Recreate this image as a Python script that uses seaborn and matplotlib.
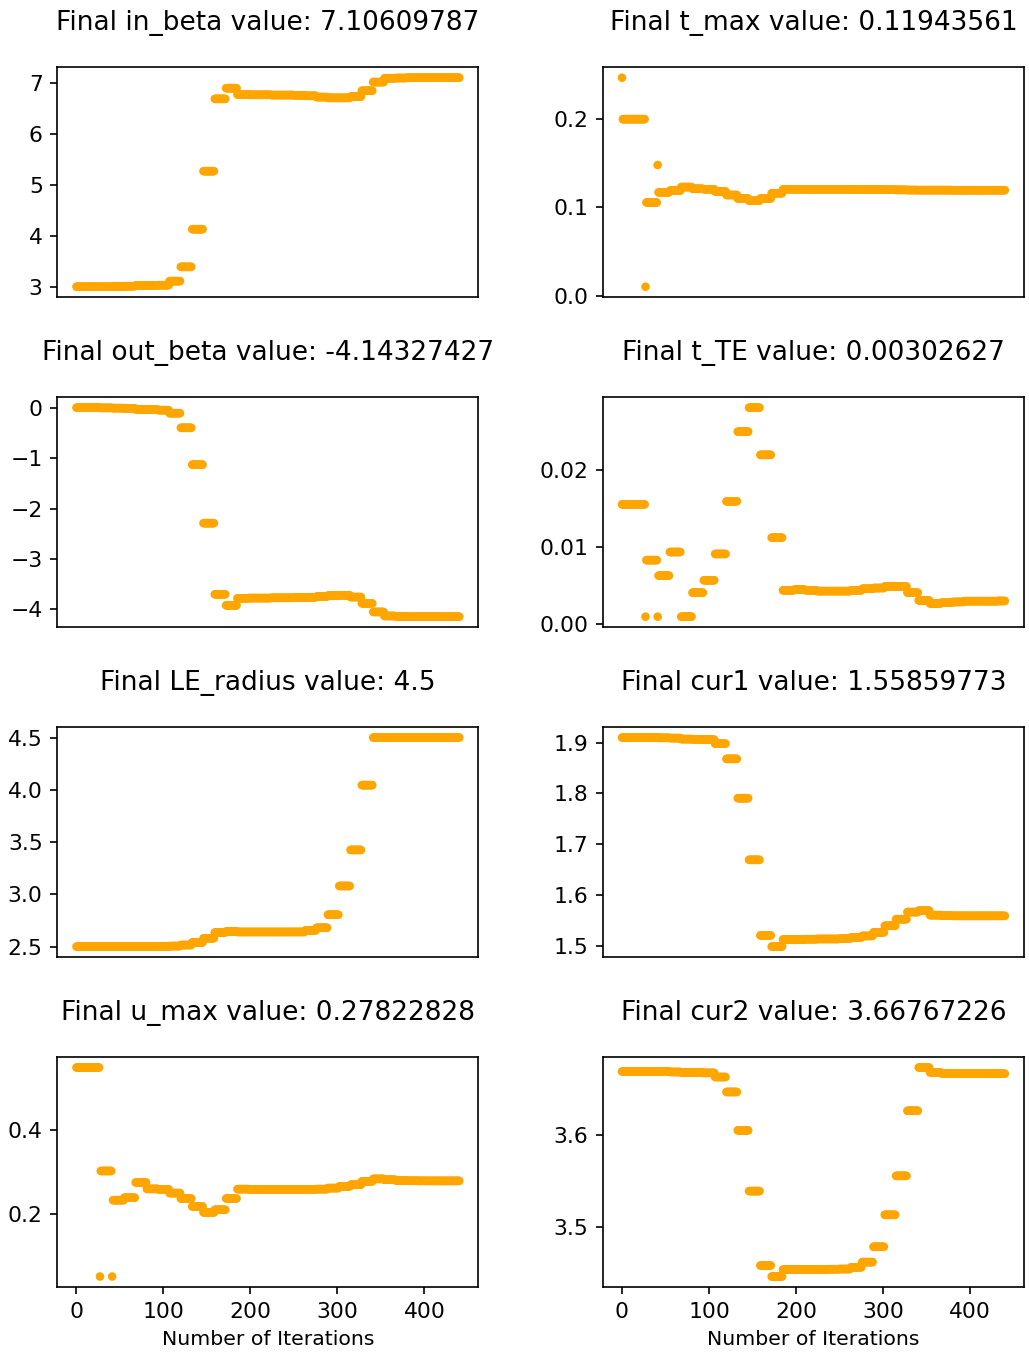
import numpy as np
import pandas as pd
import matplotlib
matplotlib.use("Agg")
import matplotlib.pyplot as plt
import seaborn as sns

# Each series is a staircase: one value per block of iterations
run_lengths = [1, 26, 1, 13, 1, 13, 13, 13, 13, 13, 13, 13, 13, 13, 13, 13, 13, 13,
               13, 13, 13, 13, 13, 13, 13, 13, 13, 13, 13, 13, 13, 13, 13, 13, 13, 9]

in_beta = [3.00, 3.00, 3.00, 3.00, 3.00, 3.005, 3.01, 3.025, 3.025, 3.03, 3.11, 3.39,
           4.13, 5.27, 6.69, 6.90, 6.775, 6.77, 6.77, 6.765, 6.765, 6.76, 6.75, 6.725,
           6.71, 6.71, 6.735, 6.85, 7.02, 7.095, 7.10, 7.105, 7.106, 7.106, 7.106, 7.10609787]

t_max = [0.247, 0.200, 0.010, 0.1055, 0.148, 0.117, 0.119, 0.123, 0.121, 0.1205, 0.118, 0.114,
         0.110, 0.1075, 0.110, 0.116, 0.1205, 0.1205, 0.1205, 0.1205, 0.1205, 0.1205, 0.1204, 0.1203,
         0.1202, 0.1200, 0.1198, 0.1196, 0.1195, 0.1195, 0.1195, 0.1194, 0.1194, 0.1194, 0.1194, 0.11943561]

out_beta = [0.0, 0.0, 0.0, -0.005, -0.005, -0.01, -0.015, -0.035, -0.04, -0.05, -0.11, -0.40,
            -1.13, -2.29, -3.70, -3.92, -3.78, -3.775, -3.775, -3.77, -3.77, -3.765, -3.76, -3.745,
            -3.725, -3.72, -3.755, -3.88, -4.05, -4.13, -4.14, -4.143, -4.143, -4.143, -4.143, -4.14327427]

t_TE = [0.0155, 0.0155, 0.0010, 0.0083, 0.0010, 0.0063, 0.00935, 0.0010, 0.0041, 0.0057, 0.0091, 0.0159,
        0.0249, 0.0280, 0.0219, 0.0112, 0.0044, 0.0045, 0.0044, 0.0043, 0.0043, 0.0043, 0.0044, 0.0046,
        0.0047, 0.0049, 0.0049, 0.0041, 0.0031, 0.0027, 0.0028, 0.0029, 0.0030, 0.0030, 0.0030, 0.00302627]

LE_radius = [2.50, 2.50, 2.50, 2.50, 2.50, 2.50, 2.50, 2.50, 2.50, 2.50, 2.505, 2.515,
             2.54, 2.58, 2.635, 2.645, 2.64, 2.64, 2.64, 2.64, 2.64, 2.64, 2.655, 2.68,
             2.805, 3.08, 3.425, 4.045, 4.5, 4.5, 4.5, 4.5, 4.5, 4.5, 4.5, 4.5]

cur1 = [1.910, 1.910, 1.910, 1.910, 1.910, 1.9095, 1.909, 1.907, 1.9065, 1.906, 1.898, 1.868,
        1.7905, 1.669, 1.520, 1.498, 1.512, 1.512, 1.5125, 1.513, 1.513, 1.5135, 1.516, 1.519,
        1.526, 1.539, 1.552, 1.566, 1.569, 1.560, 1.559, 1.5586, 1.5586, 1.5586, 1.5586, 1.55859773]

u_max = [0.550, 0.550, 0.049, 0.302, 0.049, 0.232, 0.238, 0.2745, 0.259, 0.258, 0.249, 0.236,
         0.217, 0.2025, 0.209, 0.236, 0.2585, 0.258, 0.258, 0.258, 0.258, 0.258, 0.258, 0.2585,
         0.261, 0.265, 0.269, 0.277, 0.283, 0.281, 0.279, 0.2785, 0.2783, 0.2782, 0.2782, 0.27822828]

cur2 = [3.670, 3.670, 3.670, 3.670, 3.670, 3.670, 3.6695, 3.669, 3.669, 3.6685, 3.664, 3.6476,
        3.6055, 3.539, 3.4575, 3.4454, 3.453, 3.453, 3.4532, 3.4532, 3.4534, 3.4536, 3.4555, 3.4612,
        3.478, 3.513, 3.5557, 3.627, 3.6744, 3.669, 3.668, 3.6677, 3.6677, 3.6677, 3.6677, 3.66767226]

names = ["in_beta", "t_max", "out_beta", "t_TE", "LE_radius", "cur1", "u_max", "cur2"]
series = [in_beta, t_max, out_beta, t_TE, LE_radius, cur1, u_max, cur2]

DPI = 150
plt.rcParams["xtick.labelsize"] = 10.5
plt.rcParams["ytick.labelsize"] = 10.5
fig = plt.figure(figsize=(1029 / DPI, 1353 / DPI), dpi=DPI)
axes = fig.subplots(4, 2)
fig.subplots_adjust(left=0.0557, right=0.9951, bottom=0.0488, top=0.9503,
                    wspace=0.2955, hspace=0.435)

for i, (name, vals) in enumerate(zip(names, series)):
    ax = axes.flat[i]
    y = np.repeat(np.array(vals, dtype=float), run_lengths)
    df = pd.DataFrame({"iteration": np.arange(len(y)), "value": y})
    sns.scatterplot(data=df, x="iteration", y="value", ax=ax, color="orange",
                    s=17, linewidth=0, edgecolor="none")
    ax.set_title(f"Final {name} value: {round(vals[-1], 8)}", fontsize=12.65, pad=18)
    ax.set_ylabel("")
    if i < 6:
        ax.set_xticks([])
        ax.set_xlabel("")
    else:
        ax.set_xticks([0, 100, 200, 300, 400])
        ax.set_xlabel("Number of Iterations", fontsize=9.8)

fig.savefig("out.png", dpi=DPI)
